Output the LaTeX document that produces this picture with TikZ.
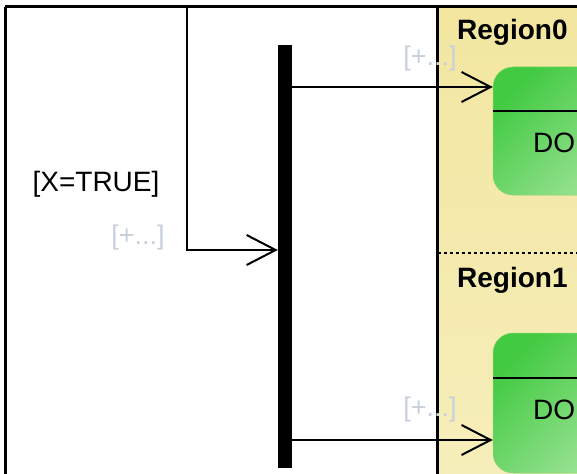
\documentclass[tikz,border=0pt]{standalone}
\usepackage{fontspec}
\setmainfont{Liberation Sans}
\usetikzlibrary{arrows.meta, positioning}

\definecolor{regionyellow}{RGB}{242,230,160}
\definecolor{regionlight}{RGB}{246,238,186}
\definecolor{stategreen}{RGB}{66,202,66}
\definecolor{statelight}{RGB}{168,230,160}
\definecolor{guardgray}{RGB}{200,208,220}

\begin{document}
\begin{tikzpicture}[x=1pt, y=-1pt,
    line/.style={line width=2pt},
    openarrow/.style={line, -{Straight Barb[length=29pt, width=30pt, line width=2pt]}},
    guardtext/.style={text=guardgray, font=\fontsize{27}{30}\selectfont, inner sep=0pt},
    regiontext/.style={font=\bfseries\fontsize{28}{32}\selectfont, anchor=west, inner sep=0pt},
    statebox/.style={rounded corners=20pt, draw=stategreen!60!regionyellow, line width=0.5pt,
        left color=stategreen, right color=statelight, shading angle=45,
        minimum width=160pt, inner sep=0pt}]
    \useasboundingbox (0,0) rectangle (577,473);
    \clip (0,0) rectangle (577,473);
    \fill[white] (0,0) rectangle (577,473);

    % Orthogonal region
    \shade[top color=regionyellow, bottom color=regionlight] (437,7) rectangle (580,476);
    \draw[line width=1.2pt, dashed] (438,253) -- (580,253);
    \node[regiontext] (reg0) at (457,32) {Region0};
    \node[regiontext] (reg1) at (457,280) {Region1};

    % States inside the regions
    \node[statebox, minimum height=128pt] (box0) at (573,131) {};
    \node[statebox, minimum height=140pt] (box1) at (573,403) {};
    \draw[line] (box0.west |- 0,111) -- (box0.east |- 0,111);
    \draw[line] (box1.west |- 0,378) -- (box1.east |- 0,378);
    \node[font=\fontsize{28}{32}\selectfont, anchor=west, inner sep=0pt] (do0) at (533,143) {DO};
    \node[font=\fontsize{28}{32}\selectfont, anchor=west, inner sep=0pt] (do1) at (533,410) {DO};

    % Frame
    \draw[line width=3pt] (5,7) -- (580,7);
    \draw[line width=3pt] (5,7) -- (5,476);
    \draw[line width=3pt] (437,7) -- (437,476);

    % Fork bar
    \node[fill=black, inner sep=0pt, minimum width=14pt, minimum height=423pt] (bar) at (285,256.5) {};

    % Incoming transition
    \coordinate (src) at (187,7);
    \coordinate (bend) at (187,250);
    \draw[openarrow] (src) -- (bend) -- (bar.west |- bend);
    \node[font=\fontsize{28}{32}\selectfont, inner sep=0pt] (guard) at (96,184) {[X=TRUE]};
    \node[guardtext] (plusin) at (138,238) {[+...]};

    % Outgoing transitions
    \coordinate (out0) at (0,87);
    \coordinate (out1) at (0,440);
    \draw[openarrow] (bar.east |- out0) -- (box0.west |- out0);
    \draw[openarrow] (bar.east |- out1) -- (box1.west |- out1);
    \node[guardtext] (plus0) at (430,59) {[+...]};
    \node[guardtext] (plus1) at (430,410) {[+...]};
\end{tikzpicture}
\end{document}
